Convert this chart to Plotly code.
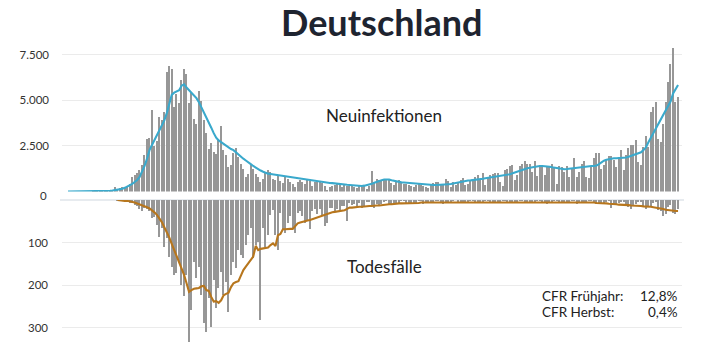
import plotly.graph_objects as go
import pandas as pd

# ---------------- data ----------------
start_date = "2020-02-14"
n_days = 248

cases = (
    [0, 0, 0, 0, 0, 0, 0, 0, 0, 0, 2, 5, 3, 8, 10, 15, 25, 40, 60]
    + [260, 150, 200, 280, 250, 350, 420, 800, 900, 1050, 1180]
    + [1450, 2000, 2880, 2970, 4500, 2490, 2780, 4100, 3920, 4370, 6560, 6880, 6750, 4650, 5380, 4870,
       6110, 6750, 6480, 4870, 5470, 4010, 3740, 5560, 5010, 3960, 3220, 2370, 2680, 2180, 2090, 2820]
    + [3640, 2310, 2000, 1360, 1450, 2130, 2420, 1910, 1540, 1270, 810, 1000, 1540, 1270, 1000, 810,
       540, 720, 1030, 1180, 1090, 720, 630, 900, 600, 480, 810, 720, 540, 460, 280, 540, 630, 540,
       460, 650, 580, 300, 520, 540, 600, 480, 300, 100, 250, 300, 360, 420, 360, 280, 420, 300]
    + [300, 360, 250, 200, 330, 280, 360, 150, 300, 1120,
       550, 700, 650, 600, 720, 680, 640, 500, 380, 620, 640, 560,
       450, 420, 380, 300, 250, 380, 420, 400, 350, 280, 230, 400,
       480, 540, 560, 450, 380, 700, 600]
    + [265, 540, 400, 540, 630, 780, 360, 450, 630, 680,
       810, 900, 720, 1030, 360, 810, 900, 1000, 1030, 1030,
       540, 300, 1220, 1270, 1400, 1450, 630, 900, 1400, 1510,
       1690, 1510, 1540, 1090, 1690, 850, 1400, 1450, 900, 1360,
       1400, 1510, 1320, 450, 1400, 1360, 1090, 1400, 810,
       1270, 1870, 810, 1090, 1510, 1690, 810, 780, 1400, 1870,
       2130, 2130, 1270, 1450, 1780, 1990, 1950, 1730, 1360, 1910,
       2310, 1180, 2040, 2420, 2550, 2590, 2820, 1640, 1450, 2450,
       3040, 2450, 4370, 4650, 4920, 2920, 2720, 3740, 4920, 6020,
       7020, 7900, 4920, 5200]
)

cases_avg = (
    [0, 0, 0, 0, 0, 0, 0, 0, 0, 0]
    + [2, 4, 6, 8, 12, 18, 25, 35, 48]
    + [65, 85, 110, 150, 200, 260, 330, 420, 520, 630, 800]
    + [1100, 1400, 1800, 2270, 2550, 2820, 3100, 3350, 3550, 3900]
    + [4300, 4800, 5300, 5420, 5480, 5550, 5800, 5880, 5700, 5560]
    + [5450, 5300, 5120, 4900, 4630, 4350, 4100, 3850, 3500, 3200]
    + [2950, 2800, 2700, 2600, 2500, 2400, 2330, 2270, 2150, 2000]
    + [1900, 1800, 1700, 1620, 1500, 1400, 1300, 1220, 1150, 1080]
    + [1010, 980, 960, 940, 920, 900, 880, 860, 830, 800]
    + [760, 740, 720, 700, 680, 660, 640, 630, 610, 600]
    + [580, 560, 540, 520, 500, 480, 470, 460, 440, 420]
    + [400, 390, 380, 370, 360, 350, 330, 310, 300, 300]
    + [320, 340, 360, 420, 480, 540, 580, 620, 660, 680]
    + [660, 620, 580, 540, 520, 500, 490, 480, 470, 460]
    + [440, 420, 400, 380, 370, 360, 360, 360, 360, 360]
    + [360, 370, 380, 390, 400, 410, 440, 470, 500, 540]
    + [560, 580, 600, 610, 620, 630, 650, 670, 700, 730]
    + [750, 770, 790, 810, 830, 850, 850, 870, 900, 950]
    + [1000, 1050, 1090, 1130, 1180, 1220, 1270, 1300, 1330, 1360]
    + [1380, 1400, 1400, 1400, 1390, 1360, 1330, 1300, 1270, 1250]
    + [1220, 1220, 1230, 1250, 1260, 1270, 1300, 1330, 1360, 1380]
    + [1400, 1400, 1400, 1400, 1420, 1500, 1600, 1690, 1740, 1780]
    + [1820, 1820, 1820, 1820, 1820, 1830, 1860, 1900, 1950, 1980]
    + [2020, 2080, 2150, 2280, 2420, 2700, 2950, 3190, 3450, 3700]
    + [3920, 4150, 4400, 4650, 4950, 5380, 5600, 5840]
)

deaths = (
    [0] * 20
    + [1, 2, 2, 3, 4, 6, 8, 12, 15, 22]
    + [26, 18, 22, 27, 43, 40, 59, 86, 67, 110, 90, 133, 157, 176, 172, 145, 200, 227, 176, 333,
       259, 145, 184, 157, 224, 290, 310, 231, 298, 188, 255, 208, 169, 224, 192, 263, 176, 145, 161, 118,
       129, 137, 106, 82, 67, 137, 106, 98, 282, 67, 110, 82, 36, 24, 82, 118]
    + [30, 69, 77, 53, 38, 65, 77, 30, 26, 38, 53, 49, 69, 26, 22, 34, 22, 38, 60, 53,
       18, 18, 26, 22, 26, 14, 14, 49, 6, 12]
    + [10, 14, 8, 18, 16, 5, 4, 12, 18, 10, 14, 10, 3, 2, 10, 12, 8, 8, 6, 2,
       1, 8, 10, 6, 9, 7, 2, 1, 9, 8, 6, 7, 5, 2, 1, 7, 9, 6, 5, 5,
       1, 0, 6, 7, 5, 6, 4, 1, 1, 6]
    + [8, 6, 4, 1, 1, 6, 7, 5, 6, 5, 2, 1, 6, 8, 6, 5, 4, 1, 1, 7,
       6, 5, 6, 4, 1, 2, 6, 7, 9, 5, 6, 2, 1, 8, 6, 5, 7, 4, 1, 1,
       9, 8, 7, 6, 5, 1, 2, 8, 10, 7]
    + [9, 6, 3, 2, 18, 12, 10, 8, 4, 3, 14, 16, 22, 12, 10, 4, 3, 16, 20, 14,
       13, 8, 5, 24, 27, 38, 33, 16, 12, 30, 33, 22]
)

deaths_avg = (
    [None] * 20
    + [0, 1, 1, 2, 2, 3, 5, 6, 8, 10]
    + [12, 14, 17, 20, 24, 29, 35, 43, 52, 64]
    + [75, 88, 103, 118, 133, 150, 163, 176, 196, 216]
    + [212, 209, 208, 207, 203, 202, 212, 214, 228, 239]
    + [238, 242, 236, 224, 221, 218, 205, 196, 193, 191]
    + [178, 165, 157, 149, 141, 133, 108, 118, 115, 114]
    + [113, 112, 106, 102, 108, 83, 80, 69, 69, 68]
    + [68, 68, 62, 55, 53, 51, 50, 48, 47, 45]
    + [42, 40, 38, 36, 34, 32, 30, 29, 28, 27]
    + [26, 26, 24, 21, 18, 18, 17, 17, 16, 16]
    + [15, 15, 14, 14, 13, 13, 13, 12, 11, 11]
    + [10, 10, 9, 9, 8, 8, 8, 8, 7, 7]
    + [7, 7, 7, 6, 6, 6, 6, 6, 6, 6]
    + [6, 6, 6, 5, 5, 5, 5, 5, 5, 5]
    + [5] * 50
    + [6, 6, 6, 6, 7, 7, 7, 8, 8, 9]
    + [9, 10, 10, 11, 11, 11, 12, 12, 13, 13]
    + [13, 14, 14, 15, 15, 16, 16, 17, 18, 18]
    + [19, 21, 23, 24, 24, 25, 26, 26]
)

upper_ticks = [2500, 5000, 7500]
upper_ticktext = ["2.500", "5.000", "7.500"]
lower_ticks = [0, 100, 200, 300]
lower_ticktext = ["", "100", "200", "300"]

title_text = "Deutschland"
label_cases = "Neuinfektionen"
label_deaths = "Todesfälle"
cfr_labels = ["CFR Frühjahr:", "CFR Herbst:"]
cfr_values = ["12,8%", "0,4%"]

# ---------------- figure ----------------
dates = pd.date_range(start_date, periods=n_days, freq="D")
W, H = 702, 349
day_ms = 86400000


def fx(p):
    return p / W


def fy(p):
    return 1 - p / H


x0 = dates[0] + pd.Timedelta(days=-2.43)
x1 = dates[0] + pd.Timedelta(days=248.6)

BAR = "#979797"
BLUE = "#3aa9cc"
BROWN = "#b7761d"
FONT = "Lato"
TXT = "#333333"

fig = go.Figure()
fig.add_trace(go.Bar(x=dates, y=cases, width=0.55 * day_ms, marker=dict(color=BAR, line=dict(width=0)),
                     xaxis="x", yaxis="y", showlegend=False, hoverinfo="skip"))
fig.add_trace(go.Scatter(x=dates, y=cases_avg, mode="lines", line=dict(color=BLUE, width=2.1),
                         xaxis="x", yaxis="y", showlegend=False))
fig.add_trace(go.Bar(x=dates, y=deaths, width=0.55 * day_ms, marker=dict(color=BAR, line=dict(width=0)),
                     xaxis="x2", yaxis="y2", showlegend=False, hoverinfo="skip"))
fig.add_trace(go.Scatter(x=dates, y=deaths_avg, mode="lines", line=dict(color=BROWN, width=2.1),
                         xaxis="x2", yaxis="y2", showlegend=False))

xdom = [fx(62), fx(682)]
fig.update_layout(
    width=W, height=H,
    margin=dict(l=0, r=0, t=0, b=0),
    paper_bgcolor="white", plot_bgcolor="white",
    bargap=0,
    font=dict(family=FONT, color=TXT),
    xaxis=dict(domain=xdom, range=[x0, x1], visible=False, anchor="y"),
    xaxis2=dict(domain=xdom, range=[x0, x1], visible=False, anchor="y2", matches="x"),
    yaxis=dict(domain=[fy(191.5), fy(45.6)], range=[0, 8000], anchor="x",
               tickvals=upper_ticks, ticktext=upper_ticktext,
               showgrid=True, gridcolor="#ebebeb", gridwidth=1.2, zeroline=False,
               showline=False, ticks="", ticklabelstandoff=12,
               tickfont=dict(family=FONT, size=11.5, color=TXT)),
    yaxis2=dict(domain=[0, fy(200)], range=[(H - 200) / 0.425, 0], anchor="x2",
                tickvals=lower_ticks, ticktext=lower_ticktext,
                showgrid=True, gridcolor="#ebebeb", gridwidth=1.2, zeroline=False,
                showline=False, ticks="", ticklabelstandoff=13,
                tickfont=dict(family=FONT, size=11.5, color=TXT)),
)

ann = [
    dict(text="<b>%s</b>" % title_text, x=fx(382), y=fy(22), xref="paper", yref="paper",
         showarrow=False, font=dict(family=FONT, size=36, color="#1e2430"), xanchor="center", yanchor="middle"),
    dict(text="0", x=fx(49), y=fy(195), xref="paper", yref="paper", showarrow=False,
         font=dict(family=FONT, size=11.5, color=TXT), xanchor="right", yanchor="middle"),
    dict(text=label_cases, x=fx(384), y=fy(115.5), xref="paper", yref="paper", showarrow=False,
         font=dict(family=FONT, size=17, color="#222222"), xanchor="center", yanchor="middle"),
    dict(text=label_deaths, x=fx(384), y=fy(266), xref="paper", yref="paper", showarrow=False,
         font=dict(family=FONT, size=17, color="#222222"), xanchor="center", yanchor="middle"),
]
for k, (lab, val) in enumerate(zip(cfr_labels, cfr_values)):
    yy = fy(295.5 + 16 * k)
    ann.append(dict(text=lab, x=fx(541), y=yy, xref="paper", yref="paper", showarrow=False, borderpad=0,
                    font=dict(family=FONT, size=13.5, color="#222222"), xanchor="left", yanchor="middle"))
    ann.append(dict(text=val, x=fx(679), y=yy, xref="paper", yref="paper", showarrow=False, borderpad=0,
                    font=dict(family=FONT, size=13.5, color="#222222"), xanchor="right", yanchor="middle"))
fig.update_layout(annotations=ann)

# light baseline of the lower panel
fig.add_shape(type="line", xref="paper", yref="paper", x0=fx(60), x1=fx(684), y0=fy(200), y1=fy(200),
              line=dict(color="#dfe4ea", width=1.5), layer="below")

fig.write_html("out.html")
